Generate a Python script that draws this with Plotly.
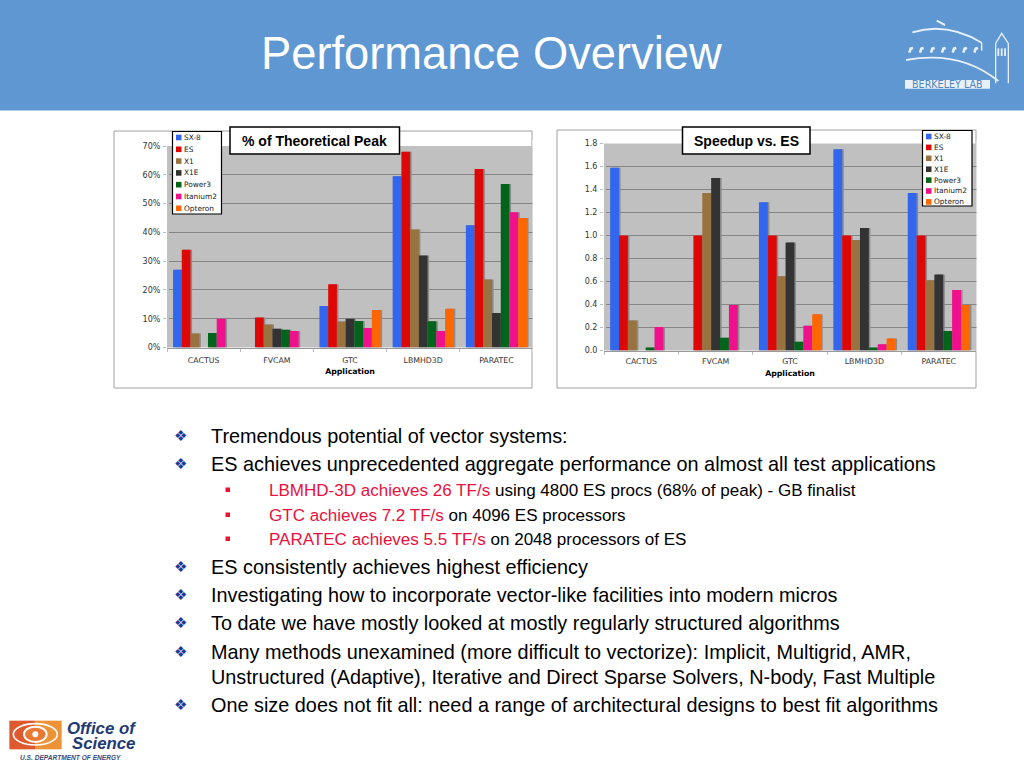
import plotly.graph_objects as go

W, H = 1024, 768
apps = ["CACTUS", "FVCAM", "GTC", "LBMHD3D", "PARATEC"]
series = ["SX-8", "ES", "X1", "X1E", "Power3", "Itanium2", "Opteron"]
colors = ["#3366EE", "#DD0806", "#99733F", "#333333", "#00651A", "#F0108C", "#FF6600"]

peak_sx8 = [27, None, 14.4, 59.5, 42.5]
peak_es = [34, 10.4, 22, 68, 62]
peak_x1 = [4.9, 8, 9, 41, 23.6]
peak_x1e = [None, 6.5, 10, 32, 12]
peak_power3 = [5, 6.2, 9.2, 9.1, 56.8]
peak_itanium2 = [10, 5.7, 6.8, 5.7, 47]
peak_opteron = [None, None, 13, 13.5, 45]
peak_values = [peak_sx8, peak_es, peak_x1, peak_x1e, peak_power3, peak_itanium2, peak_opteron]

speed_sx8 = [1.59, None, 1.29, 1.75, 1.37]
speed_es = [1, 1, 1, 1, 1]
speed_x1 = [0.26, 1.37, 0.645, 0.96, 0.61]
speed_x1e = [None, 1.5, 0.94, 1.065, 0.66]
speed_power3 = [0.025, 0.11, 0.075, 0.025, 0.17]
speed_itanium2 = [0.205, 0.395, 0.215, 0.055, 0.525]
speed_opteron = [None, None, 0.315, 0.105, 0.395]
speed_values = [speed_sx8, speed_es, speed_x1, speed_x1e, speed_power3, speed_itanium2, speed_opteron]

peak_ticks = [0, 10, 20, 30, 40, 50, 60, 70]
peak_labels = ["0%", "10%", "20%", "30%", "40%", "50%", "60%", "70%"]
speed_ticks = [0, 0.2, 0.4, 0.6, 0.8, 1.0, 1.2, 1.4, 1.6, 1.8]
speed_labels = ["0.0", "0.2", "0.4", "0.6", "0.8", "1.0", "1.2", "1.4", "1.6", "1.8"]


def px(x):
    return x / W


def py(y):
    return 1 - y / H


shapes = []
ann = []


def rect(x0, y0, x1, y1, fill=None, line=None, lw=1):
    shapes.append(dict(type="rect", xref="paper", yref="paper", x0=px(x0), x1=px(x1), y0=py(y1), y1=py(y0),
                       fillcolor=fill or "rgba(0,0,0,0)",
                       line=dict(color=line or "rgba(0,0,0,0)", width=lw if line else 0), layer="below"))


def top_rect(x0, y0, x1, y1, fill=None, line=None, lw=1):
    rect(x0, y0, x1, y1, fill, line, lw)
    shapes[-1]["layer"] = "above"


def path(points, color, width=1.5, fill=None, closed=False):
    parts = []
    for p in points:
        if isinstance(p, str):
            parts.append(p)
        else:
            parts.append(f"{px(p[0]):.5f},{py(p[1]):.5f}")
    s = " ".join(parts) + (" Z" if closed else "")
    shapes.append(dict(type="path", xref="paper", yref="paper", path=s,
                       line=dict(color=color, width=width), fillcolor=fill or "rgba(0,0,0,0)", layer="above"))


def text(x, y, s, size, color="#000000", family="Liberation Sans", anchor="left"):
    ann.append(dict(xref="paper", yref="paper", x=px(x - (2 if anchor == "left" else 0)), y=py(y), text=s, showarrow=False,
                    xanchor=anchor, yanchor="middle", align=anchor,
                    font=dict(size=size, color=color, family=family)))


# header
rect(0, 0, W, 110.5, fill="#5E97D1")
text(491, 53.5, "Performance Overview", 45.3, "#FFFFFF", anchor="center")

# chart frames
rect(114, 131, 532, 388, fill="#FFFFFF", line="#A0A0A0")
rect(557, 130, 976, 388, fill="#FFFFFF", line="#A0A0A0")
PL = (167, 146, 533, 347.5)
PR = (604, 143.5, 976, 350.5)
rect(*PL, fill="#C0C0C0")
rect(*PR, fill="#C0C0C0")

fig = go.Figure()
SHIFT = 1.6


def add_chart(values, box, n_shadow, n_main, ticks, labels, ymax, label_gap, title_gap):
    x0, y0, x1, y1 = box
    for i, vals in enumerate(values):
        fig.add_trace(go.Bar(x=apps, y=vals, marker=dict(color="#8C8C8C", line_width=0), showlegend=False,
                             hoverinfo="skip", xaxis=f"x{n_shadow}", yaxis=f"y{n_shadow}",
                             offsetgroup=str(i)))
    for i, vals in enumerate(values):
        fig.add_trace(go.Bar(x=apps, y=vals, name=series[i], marker=dict(color=colors[i], line_width=0),
                             showlegend=False, xaxis=f"x{n_main}", yaxis=f"y{n_main}", offsetgroup=str(i)))
    dom_s = [px(x0 + SHIFT), px(x1 + SHIFT)]
    dom_m = [px(x0), px(x1)]
    ydom = [py(y1), py(y0)]
    rng = [0, ymax]
    fig.layout[f"xaxis{n_shadow}"] = dict(domain=dom_s, anchor=f"y{n_shadow}", categoryorder="array", categoryarray=apps,
                                          showticklabels=False, ticks="", showline=False, showgrid=False, zeroline=False)
    fig.layout[f"yaxis{n_shadow}"] = dict(domain=ydom, anchor=f"x{n_shadow}", range=rng, tickvals=ticks, showticklabels=False,
                                          ticks="", showline=False, showgrid=True, gridcolor="#858585", gridwidth=1, zeroline=False)
    fig.layout[f"xaxis{n_main}"] = dict(domain=dom_m, anchor=f"y{n_main}", categoryorder="array", categoryarray=apps,
                                        tickson="boundaries", ticks="outside", ticklen=3, tickcolor="#BBBBBB", showline=True,
                                        linecolor="#999999", linewidth=1, showgrid=False, zeroline=False, ticklabelstandoff=label_gap,
                                        tickfont=dict(size=7.8, family="DejaVu Sans", color="#333333"),
                                        title=dict(text="<b>Application</b>", standoff=title_gap,
                                                   font=dict(size=7.8, family="DejaVu Sans", color="#000000")))
    fig.layout[f"yaxis{n_main}"] = dict(domain=ydom, anchor=f"x{n_main}", range=rng, tickvals=ticks, ticktext=labels,
                                        ticks="outside", ticklen=3, tickcolor="#BBBBBB", showline=False, showgrid=False, zeroline=False,
                                        ticklabelstandoff=1,
                                        tickfont=dict(size=8, family="DejaVu Sans", color="#333333"))


add_chart(peak_values, PL, "", 3, peak_ticks, peak_labels, 70, 5, 4)
add_chart(speed_values, PR, 2, 4, speed_ticks, speed_labels, 1.8, 3, 5)

# keep the shadow grid inside the chart frames
top_rect(532.6, 140, 537, 352, fill="#FFFFFF")
top_rect(976.6, 140, 981, 355, fill="#FFFFFF")

# chart title boxes
top_rect(230, 127, 399.5, 154, fill="#FFFFFF", line="#000000", lw=1.5)
top_rect(682.5, 127, 810, 154, fill="#FFFFFF", line="#000000", lw=1.5)
text(314.5, 141, "<b>% of Theoretical Peak</b>", 14, anchor="center")
text(746, 141, "<b>Speedup vs. ES</b>", 14, anchor="center")


def legend(x0, y0, x1, y1, pitch):
    top_rect(x0, y0, x1, y1, fill="#FFFFFF", line="#000000", lw=1.2)
    for i, (name, c) in enumerate(zip(series, colors)):
        yc = y0 + 6 + i * pitch
        top_rect(x0 + 3.5, yc - 2.8, x0 + 9, yc + 2.8, fill=c)
        text(x0 + 11.5, yc, name, 7.4, "#222222", "DejaVu Sans")


legend(172.5, 131.5, 221.5, 214, 11.8)
legend(922.5, 130.5, 972, 206, 10.9)

# bullet text
BL = "#1A3A9A"
RD = "#E8103C"
bullets = [
    (436, "Tremendous potential of vector systems:"),
    (464, "ES achieves unprecedented aggregate performance on almost all test applications"),
    (567, "ES consistently achieves highest efficiency"),
    (595, "Investigating how to incorporate vector-like facilities into modern micros"),
    (623, "To date we have mostly looked at mostly regularly structured algorithms"),
    (652, "Many methods unexamined (more difficult to vectorize): Implicit, Multigrid, AMR,"),
    (705, "One size does not fit all: need a range of architectural designs to best fit algorithms"),
]
for y, s in bullets:
    text(174, y, "❖", 15, BL, "DejaVu Sans")
    text(211, y, s, 19.85)
text(211, 676.5, "Unstructured (Adaptive), Iterative and Direct Sparse Solvers, N-body, Fast Multiple", 19.85)

subs = [
    (490.5, "LBMHD-3D achieves 26 TF/s", " using 4800 ES procs (68% of peak) - GB finalist"),
    (515.5, "GTC achieves 7.2 TF/s", " on 4096 ES processors"),
    (539.5, "PARATEC achieves 5.5 TF/s", " on 2048 processors of ES"),
]
for y, red, rest in subs:
    top_rect(225.5, y - 3, 230, y + 1.5, fill="#EE1133")
    text(269, y, f'<span style="color:{RD}">{red}</span>{rest}', 17.05)


# Berkeley Lab logo
def L(zx, zy):
    return (880 + zx / 3, zy / 3)


LOGO = "#E8F0FA"


def qpath(a, c, b, color=LOGO, w=1.8):
    p0, pc, p1 = L(*a), L(*c), L(*b)
    s = (f"M {px(p0[0]):.5f},{py(p0[1]):.5f} Q {px(pc[0]):.5f},{py(pc[1]):.5f} {px(p1[0]):.5f},{py(p1[1]):.5f}")
    shapes.append(dict(type="path", xref="paper", yref="paper", path=s, line=dict(color=color, width=w), layer="above"))


qpath((97, 97), (200, 65), (305, 128))
qpath((78, 180), (240, 150), (355, 243))
path(["M", L(170, 62), "L", L(195, 75)], LOGO, 2)
path(["M", L(305, 128), "L", L(305, 152)], LOGO, 1.5)
path(["M", L(347, 250), "L", L(347, 130), "L", L(365, 100), "L", L(385, 130), "L", L(385, 250)], LOGO, 1.3)
for zx in (355, 365, 375):
    path(["M", L(zx, 145), "L", L(zx, 168)], LOGO, 1.8)
for zx in (88, 120, 153, 186, 218, 250, 283):
    path(["M", L(zx, 158), "L", L(zx + 4, 146), "L", L(zx + 11, 144)], LOGO, 2.6)
top_rect(*L(75, 240), *L(330, 266), fill="#E8F0FA")
text(880 + 202 / 3, 84.5, "BERKELEY LAB", 9.6, "#4F86C0", "DejaVu Sans", "center")


# Office of Science logo
def O(zx, zy):
    return (zx / 3, 700 + zy / 3)


top_rect(*O(28, 62), *O(105, 148), fill="#DE5A2E")
top_rect(*O(105, 62), *O(185, 148), fill="#EE9238")


def ell(cx, cy, rx, ry, fill=None, line=None, lw=1):
    a, b = O(cx - rx, cy - ry), O(cx + rx, cy + ry)
    shapes.append(dict(type="circle", xref="paper", yref="paper", x0=px(a[0]), x1=px(b[0]), y0=py(b[1]), y1=py(a[1]),
                       fillcolor=fill or "rgba(0,0,0,0)", line=dict(color=line or "rgba(0,0,0,0)", width=lw), layer="above"))


ell(106, 103, 66, 32, None, "#FFFFFF", 1.6)
ell(106, 103, 34, 23, "#E97A33", "#FFFFFF", 2)
ell(106, 103, 9, 9, "#FFFFFF", None, 0)
text(67, 728, "<b><i>Office of</i></b>", 16.8, "#1F3A73", anchor="left")
text(72, 743, "<b><i>Science</i></b>", 16.8, "#1F3A73", anchor="left")
text(70, 757, "<b><i>U.S. DEPARTMENT OF ENERGY</i></b>", 6.6, "#3A4A78", anchor="center")

fig.update_layout(width=W, height=H, margin=dict(l=0, r=0, t=0, b=0, autoexpand=False), paper_bgcolor="#FFFFFF",
                  plot_bgcolor="rgba(0,0,0,0)", barmode="group", bargap=0.165, bargroupgap=0,
                  showlegend=False, shapes=shapes, annotations=ann,
                  font=dict(family="Liberation Sans"))

fig.write_html("out.html", config={"displayModeBar": False},
               post_script="document.body.style.margin='0';document.documentElement.style.overflow='hidden';")
